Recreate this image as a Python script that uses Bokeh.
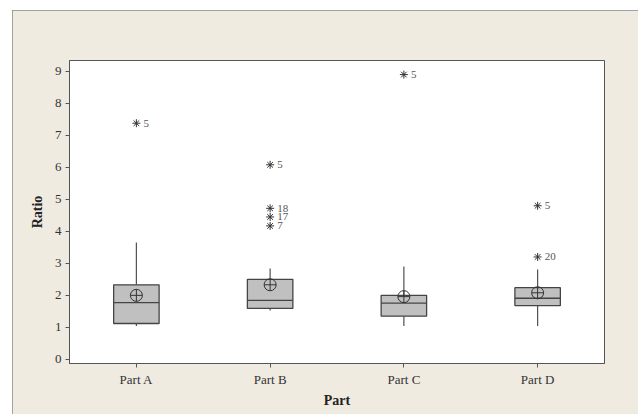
from bokeh.plotting import figure
from bokeh.models import Range1d, FixedTicker, ColumnDataSource
from bokeh.core.properties import value
from bokeh.embed import file_html
from bokeh.resources import INLINE

# ---- data ----
categories = ["Part A", "Part B", "Part C", "Part D"]
whisker_low = [1.04, 1.53, 1.04, 1.04]
q1 = [1.12, 1.59, 1.35, 1.68]
median = [1.77, 1.84, 1.76, 1.91]
q3 = [2.33, 2.50, 2.00, 2.24]
whisker_high = [3.65, 2.84, 2.90, 2.81]
means = [2.00, 2.33, 1.96, 2.08]

outlier_part = ["Part A", "Part B", "Part B", "Part B", "Part B", "Part C", "Part D", "Part D"]
outlier_value = [7.38, 6.08, 4.72, 4.45, 4.17, 8.90, 4.80, 3.20]
outlier_label = ["5", "5", "18", "17", "7", "5", "5", "20"]

y_ticks = [0, 1, 2, 3, 4, 5, 6, 7, 8, 9]

BEIGE = "#EFEBE1"
SERIF = "Liberation Serif"

xpos = [i + 1 for i in range(len(categories))]
box_w = 0.34

p = figure(width=626, height=404, output_backend="svg", toolbar_location=None,
           x_range=Range1d(0.5, 4.5), y_range=Range1d(-0.13, 9.34),
           min_border_left=57, min_border_right=34, min_border_top=50, min_border_bottom=51)
p.margin = (10, 0, 0, 12)
p.styles = {"outline": "1px solid #8a8a8a", "outline-offset": "-1px"}
p.border_fill_color = BEIGE
p.background_fill_color = "white"
p.outline_line_color = "#555555"
p.outline_line_width = 1
p.xgrid.visible = False
p.ygrid.visible = False

src = ColumnDataSource(dict(x=xpos, lo=whisker_low, q1=q1, med=median, q3=q3,
                            hi=whisker_high, mean=means,
                            xl=[x - box_w / 2 for x in xpos],
                            xr=[x + box_w / 2 for x in xpos]))

# whiskers
p.segment(x0="x", y0="lo", x1="x", y1="q1", source=src, line_color="#505050", line_width=1.2)
p.segment(x0="x", y0="q3", x1="x", y1="hi", source=src, line_color="#505050", line_width=1.2)
# boxes
p.vbar(x="x", bottom="q1", top="q3", width=box_w, source=src,
       fill_color="#C0C0C0", line_color="#444444", line_width=1.3)
# medians
p.segment(x0="xl", y0="med", x1="xr", y1="med", source=src, line_color="#444444", line_width=1.3)
# means
p.scatter(x="x", y="mean", source=src, marker="circle_cross", size=12,
          fill_alpha=0, line_color="#333333", line_width=1)

# outliers
ox = [xpos[categories.index(c)] for c in outlier_part]
osrc = ColumnDataSource(dict(x=ox, y=outlier_value, t=outlier_label))
p.scatter(x="x", y="y", source=osrc, marker="asterisk", size=8,
          line_color="#333333", line_width=1)
p.text(x="x", y="y", text="t", source=osrc, x_offset=7, text_baseline="middle",
       text_font=value(SERIF), text_font_size="11px", text_color="#555555")

# axes
p.xaxis.ticker = FixedTicker(ticks=xpos)
p.xaxis.major_label_overrides = {x: c for x, c in zip(xpos, categories)}
p.yaxis.ticker = FixedTicker(ticks=y_ticks)
for ax in (p.xaxis[0], p.yaxis[0]):
    ax.axis_line_color = "#555555"
    ax.major_tick_line_color = "#555555"
    ax.major_tick_out = 4
    ax.major_tick_in = 0
    ax.minor_tick_line_color = None
    ax.major_label_text_font = SERIF
    ax.major_label_text_font_size = "13px"
    ax.major_label_text_color = "#333333"
    ax.axis_label_text_font = SERIF
    ax.axis_label_text_font_size = "14px"
    ax.axis_label_text_font_style = "bold"
    ax.axis_label_text_color = "#222222"
p.xaxis.axis_label = "Part"
p.yaxis.axis_label = "Ratio"
p.xaxis.major_label_standoff = 4
p.xaxis.axis_label_standoff = 3
p.yaxis.major_label_standoff = 4
p.yaxis.axis_label_standoff = 7

open("out.html", "w").write(file_html(p, INLINE))
